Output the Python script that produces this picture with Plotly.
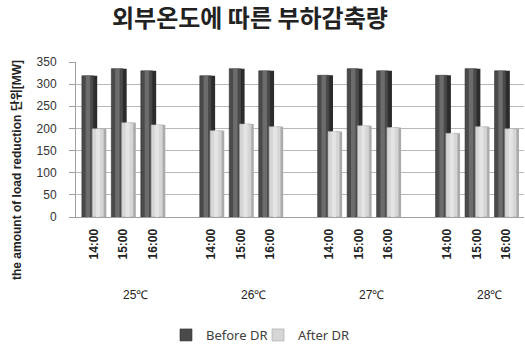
import plotly.graph_objects as go

groups = ["25℃", "26℃", "27℃", "28℃"]
times = ["14:00", "15:00", "16:00"]
before_dr = [[319, 335, 330], [319, 335, 330], [320, 335, 330], [320, 335, 330]]
after_dr = [[199, 213, 208], [195, 210, 204], [193, 206, 202], [189, 204, 199]]
y_ticks = [0, 50, 100, 150, 200, 250, 300, 350]

slots_per_group = len(times) + 1
xs, tick_text = [], []
yb, ya = [], []
for gi, g in enumerate(groups):
    for ti, t in enumerate(times):
        xs.append(gi * slots_per_group + ti)
        tick_text.append(t)
        yb.append(before_dr[gi][ti])
        ya.append(after_dr[gi][ti])

fig = go.Figure()


def face(y, name, color, offset, width, show, group, line_color=None):
    fig.add_trace(go.Bar(
        x=xs, y=y, name=name, offset=offset, width=width, showlegend=show,
        legendgroup=group, hoverinfo="skip" if not show else None,
        marker=dict(color=color, line=dict(color=line_color or color, width=0.6 if line_color else 0)),
    ))


# Before DR: side face, main face, highlight strip
face(yb, "Before DR side", "#2c2c2c", -0.02, 0.14, False, "b")
face(yb, "Before DR", "#4a4a4a", -0.40, 0.39, True, "b", "#333333")
face(yb, "Before DR hl", "#6c6c6c", -0.27, 0.15, False, "b")
# After DR: main face, side face
face(ya, "After DR", "#d6d6d6", -0.05, 0.40, True, "a", "#a4a4a4")
face(ya, "After DR side", "#ababab", 0.35, 0.08, False, "a")
face(ya, "After DR hl", "#e4e4e4", 0.08, 0.14, False, "a")

annotations = []
for gi, g in enumerate(groups):
    annotations.append(dict(x=gi * slots_per_group + (slots_per_group - 1) / 2 - 0.08, xref="x",
                            y=-0.503, yref="paper", text=g, showarrow=False,
                            xanchor="center", yanchor="middle",
                            font=dict(family="Liberation Sans", size=12, color="#222222")))
annotations.append(dict(x=-0.1317, xref="paper", y=0.303, yref="paper",
                        text="<b>the amount of load reduction 단위[MW]</b>", textangle=-90,
                        showarrow=False, xanchor="center", yanchor="middle",
                        font=dict(family="Liberation Sans, Noto Sans CJK KR", size=12, color="#222222")))

fig.update_layout(
    width=525, height=347,
    margin=dict(l=76, r=1, t=62, b=130),
    paper_bgcolor="white", plot_bgcolor="white",
    barmode="overlay",
    title=dict(text="<b>외부온도에 따른 부하감축량</b>", x=0.476, xref="container", xanchor="center",
               y=1 - 19 / 347, yref="container", yanchor="middle",
               font=dict(family="Noto Sans CJK KR", size=24, color="#222222")),
    showlegend=True,
    legend=dict(orientation="h", x=0.4914, xref="container", xanchor="center",
                y=1 - 335 / 347, yref="container", yanchor="middle",
                font=dict(family="Noto Sans", size=13, color="#404040"),
                itemwidth=30, entrywidth=47, traceorder="normal"),
    annotations=annotations,
    xaxis=dict(tickmode="array", tickvals=xs, ticktext=tick_text, tickangle=-90,
               range=[-0.6, 14.6], showgrid=False, showline=True, linecolor="#a0a0a0",
               ticks="", ticklabelstandoff=6,
               tickfont=dict(family="Liberation Sans", size=12, color="#222222", weight="bold"),
               zeroline=False),
    yaxis=dict(range=[0, 350], tickvals=y_ticks, showgrid=True, gridcolor="#b8b8b8",
               showline=True, linecolor="#a0a0a0", ticks="outside", ticklen=6, tickcolor="#a0a0a0",
               ticklabelstandoff=10, zeroline=False,
               tickfont=dict(family="Liberation Sans", size=12, color="#333333")),
)
fig.write_html("out.html")
